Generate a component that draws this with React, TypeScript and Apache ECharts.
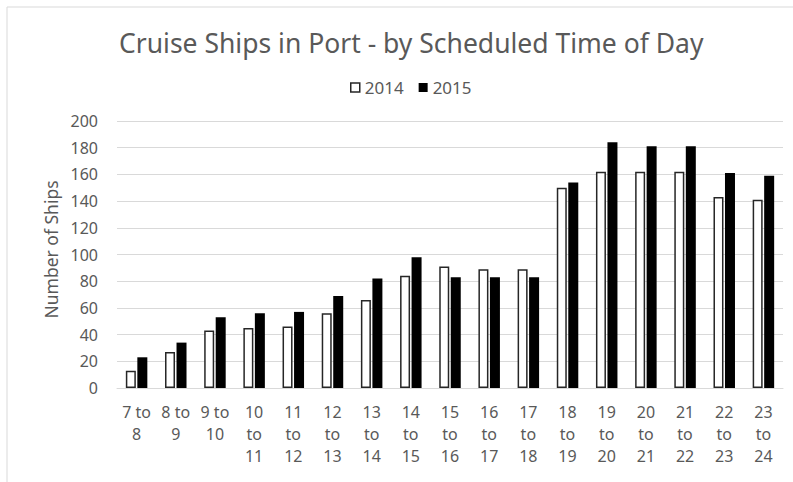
import React, { useEffect, useRef } from "react";
import * as echarts from "echarts";

const TITLE = "Cruise Ships in Port - by Scheduled Time of Day";
const Y_AXIS_NAME = "Number of Ships";
const SERIES_NAMES = ["2014", "2015"];
const CATEGORIES = [
  "7 to 8", "8 to 9", "9 to 10", "10 to 11", "11 to 12", "12 to 13", "13 to 14",
  "14 to 15", "15 to 16", "16 to 17", "17 to 18", "18 to 19", "19 to 20",
  "20 to 21", "21 to 22", "22 to 23", "23 to 24",
];
const VALUES_2014 = [13, 27, 43, 45, 46, 56, 66, 84, 91, 89, 89, 150, 162, 162, 162, 143, 141];
const VALUES_2015 = [23, 34, 53, 56, 57, 69, 82, 98, 83, 83, 83, 154, 184, 181, 181, 161, 159];
const Y_MIN = 0;
const Y_MAX = 200;
const Y_INTERVAL = 20;

const FONT = "'Noto Sans', sans-serif";
const TEXT_COLOR = "#595959";

function formatCategory(c: string): string {
  const [a, , b] = c.split(" ");
  return a.length === 1 ? `${a} to\n${b}` : `${a}\nto\n${b}`;
}

export default function App() {
  const ref = useRef<HTMLDivElement>(null);
  useEffect(() => {
    if (!ref.current) return;
    const chart = echarts.init(ref.current, null, { renderer: "svg" });
    chart.setOption({
      animation: false,
      backgroundColor: "#ffffff",
      textStyle: { fontFamily: FONT },
      graphic: [
        {
          type: "rect",
          shape: { x: 7, y: 7, width: 820, height: 520 },
          style: { fill: "none", stroke: "#d9d9d9", lineWidth: 1 },
          silent: true,
        },
      ],
      title: {
        text: TITLE,
        left: 114,
        top: 24,
        textStyle: { fontFamily: FONT, fontSize: 26.5, fontWeight: "normal", color: TEXT_COLOR },
      },
      legend: {
        top: 74,
        left: 345,
        itemWidth: 9,
        itemHeight: 9,
        itemGap: 15,
        textStyle: { fontFamily: FONT, fontSize: 17, color: TEXT_COLOR },
        data: [
          { name: SERIES_NAMES[0], icon: "rect", itemStyle: { color: "#ffffff", borderColor: "#262626", borderWidth: 1.5 } },
          { name: SERIES_NAMES[1], icon: "rect", itemStyle: { color: "#000000" } },
        ],
      },
      grid: { left: 117, right: 10, top: 121, bottom: 94, containLabel: false },
      xAxis: {
        type: "category",
        data: CATEGORIES,
        axisLine: { show: true, lineStyle: { color: "#d9d9d9", width: 1 } },
        axisTick: { show: false },
        axisLabel: {
          interval: 0,
          margin: 13,
          fontFamily: FONT,
          fontSize: 16,
          lineHeight: 22,
          color: TEXT_COLOR,
          formatter: formatCategory,
        },
      },
      yAxis: {
        type: "value",
        min: Y_MIN,
        max: Y_MAX,
        interval: Y_INTERVAL,
        name: Y_AXIS_NAME,
        nameLocation: "middle",
        nameGap: 56,
        nameTextStyle: { fontFamily: FONT, fontSize: 17.5, color: TEXT_COLOR, padding: [0, 0, 0, 10] },
        axisLine: { show: false },
        axisTick: { show: false },
        axisLabel: { fontFamily: FONT, fontSize: 16, color: TEXT_COLOR, margin: 19 },
        splitLine: { lineStyle: { color: "#d9d9d9", width: 1 } },
      },
      series: [
        {
          name: SERIES_NAMES[0],
          type: "bar",
          data: VALUES_2014,
          barWidth: 10,
          barGap: "15%",
          itemStyle: { color: "#ffffff", borderColor: "#262626", borderWidth: 1.5 },
        },
        {
          name: SERIES_NAMES[1],
          type: "bar",
          data: VALUES_2015,
          barWidth: 10,
          itemStyle: { color: "#000000" },
        },
      ],
    });
    return () => chart.dispose();
  }, []);
  return (
    <div
      ref={ref}
      style={{ position: "absolute", left: 0, top: 0, width: 793, height: 482 }}
    />
  );
}
